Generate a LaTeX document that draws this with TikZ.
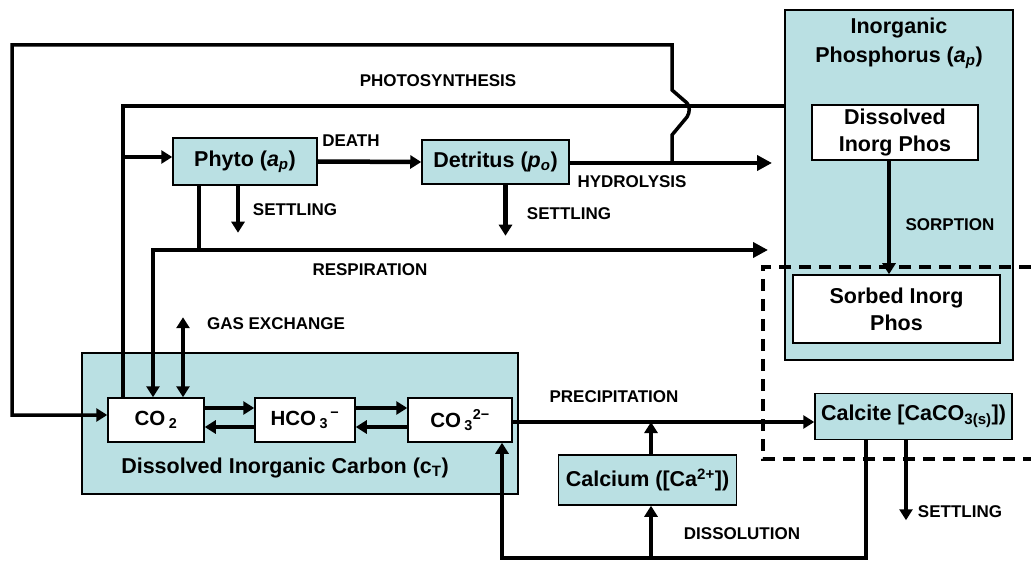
\documentclass[tikz,border=0pt]{standalone}
\usepackage{fontspec}
\setmainfont{Liberation Sans}
\usetikzlibrary{arrows.meta}
\definecolor{poolfill}{RGB}{186,224,227}

\begin{document}
\begin{tikzpicture}[x=1pt,y=-1pt,
        pool/.style={draw=black,line width=1.5pt,fill=poolfill,inner sep=0pt,align=center,font=\fontsize{21.5}{27}\selectfont\bfseries},
        species/.style={pool,fill=white},
        ion/.style={species,font=\fontsize{20.5}{24}\selectfont\bfseries},
        lbl/.style={inner sep=0pt,font=\fontsize{17}{19}\selectfont\bfseries},
        pipe/.style={line width=4.5pt},
        flow/.style={pipe,-{Triangle[length=11pt,width=13pt]}},
        bigflow/.style={pipe,-{Triangle[length=15pt,width=15pt]}},
        twoway/.style={pipe,{Triangle[length=11pt,width=13pt]}-{Triangle[length=11pt,width=13pt]}}]
        \useasboundingbox (0,0) rectangle (1031,561);

        % phosphorus side
        \node[pool,minimum width=228pt,minimum height=350pt] (pbox) at (899,185) {};
        \node[pool,draw=none,fill=none,font=\fontsize{21.5}{29}\selectfont\bfseries] (ptitle) at (899,43) {Inorganic\\Phosphorus (\textit{a\textsubscript{p}})};
        \draw[line width=3.5pt,dash pattern=on 12pt off 8pt] (1031,267) -- (763,267) -- (763,459) -- (1031,459);
        \node[species,minimum width=166pt,minimum height=55pt] (dip) at (895,132.5) {Dissolved\\Inorg Phos};
        \node[species,minimum width=207pt,minimum height=68pt] (sip) at (896.5,309) {Sorbed Inorg\\Phos};

        % carbon side
        \node[pool,minimum width=436pt,minimum height=141pt] (dic) at (300,423.5) {};
        \node[pool,draw=none,fill=none] (dictitle) at (285,468) {Dissolved Inorganic Carbon (c\textsubscript{T})};
        \node[ion,minimum width=96pt,minimum height=44pt] (co2) at (156,420) {CO\,\textsubscript{2}};
        \node[ion,minimum width=100pt,minimum height=44pt] (hco) at (305,420) {HCO\,\textsubscript{3}\textsuperscript{\,−}};
        \node[ion,minimum width=104pt,minimum height=44pt] (co3) at (460,420) {CO\,\textsubscript{3}\textsuperscript{2−}};

        \node[pool,minimum width=144pt,minimum height=47pt] (phyto) at (245,161.5) {Phyto (\textit{a\textsubscript{p}})};
        \node[pool,minimum width=147pt,minimum height=44pt] (det) at (495.5,162) {Detritus (\textit{p\textsubscript{o}})};
        \node[pool,minimum width=178pt,minimum height=50pt] (ca) at (647.5,480) {Calcium ([Ca\textsuperscript{2+}])};
        \node[pool,minimum width=197pt,minimum height=46pt] (calc) at (913.5,416.5) {Calcite [CaCO\textsubscript{3(s)}])};

        \coordinate (pj) at (123,157);
        \coordinate (rj) at (199,250);
        \coordinate (rc) at (153,250);
        \coordinate (resend) at (768,250);
        \coordinate (hj) at (672,163);
        \coordinate (hydend) at (772,163);
        \coordinate (pr) at (651,422);
        \coordinate (dr) at (866,558);
        \coordinate (dc) at (651,558);

        % flows
        \draw[flow] (pbox.west |- 0,106) -| (pj) -- (phyto.west |- pj);
        \draw[pipe] (co2.north -| pj) -- (pj);
        \draw[flow] (phyto.east) -- (det.west);
        \draw[flow] ([xshift=-7pt]phyto.south) -- ++(0,47);
        \draw[flow] ([xshift=10pt]det.south) -- ++(0,51);
        \draw[bigflow] (det.east |- hj) -- (hydend);
        \draw[pipe] (phyto.south -| rj) -- (rj);
        \draw[bigflow] (rj) -- (resend);
        \draw[flow] (rj) -| (co2.north -| rc);
        \draw[line width=3.5pt,-{Triangle[length=11pt,width=13pt]}] (hj) -- (672,135) -- (687,117)
                .. controls (690,112) and (690,107) .. (687,103) -- (672,90) -- (672,45) -- (12,45)
                |- ([yshift=5pt]co2.west);
        \draw[twoway] (co2.north -| 183,0) -- ++(0,-80);
        \draw[flow] (dip.south -| 889,0) -- (sip.north -| 889,0);

        \draw[flow] ([yshift=12pt]co2.east) -- ([yshift=12pt]hco.west);
        \draw[flow] ([yshift=-7pt]hco.west) -- ([yshift=-7pt]co2.east);
        \draw[flow] ([yshift=12pt]hco.east) -- ([yshift=12pt]co3.west);
        \draw[flow] ([yshift=-7pt]co3.west) -- ([yshift=-7pt]hco.east);

        \draw[flow] (co3.east |- pr) -- (calc.west |- pr);
        \draw[flow] (ca.north -| pr) -- (pr);
        \draw[flow] (calc.south -| dr) -- (dr) -| (co3.south -| 502,0);
        \draw[flow] (dc) -- (ca.south -| dc);
        \draw[flow] (calc.south -| 906,0) -- ++(0,80);

        % labels
        \node[lbl] (lphoto) at (438,81) {PHOTOSYNTHESIS};
        \node[lbl] (ldeath) at (351,141) {DEATH};
        \node[lbl] (lset1) at (295,210) {SETTLING};
        \node[lbl] (lset2) at (569,214) {SETTLING};
        \node[lbl] (lhyd) at (632,182) {HYDROLYSIS};
        \node[lbl] (lresp) at (370,270) {RESPIRATION};
        \node[lbl] (lgas) at (276,324) {GAS EXCHANGE};
        \node[lbl] (lsorp) at (950,225) {SORPTION};
        \node[lbl] (lprec) at (614,397) {PRECIPITATION};
        \node[lbl] (ldiss) at (742,534) {DISSOLUTION};
        \node[lbl] (lset3) at (960,512) {SETTLING};
\end{tikzpicture}
\end{document}
